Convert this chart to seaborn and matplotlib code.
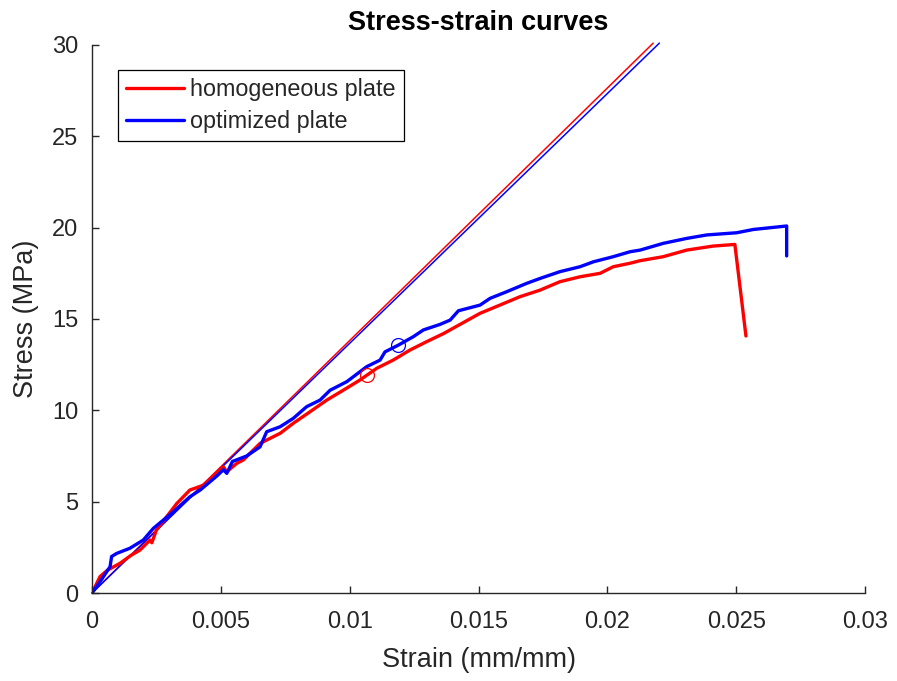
import matplotlib
matplotlib.use("Agg")
import matplotlib.pyplot as plt
from matplotlib.lines import Line2D
import seaborn as sns

# Measured stress-strain response (strain in mm/mm, stress in MPa)
homog_strain = [0.0, 0.00031, 0.00060, 0.00109, 0.00150, 0.00186, 0.00225, 0.00232,
                0.0025, 0.00329, 0.0038, 0.00432, 0.0051, 0.00523, 0.00562, 0.00587,
                0.00652, 0.0073, 0.00781, 0.00846, 0.00911, 0.00975, 0.0104, 0.01105,
                0.01169, 0.01234, 0.01299, 0.01364, 0.01428, 0.01506, 0.01583, 0.01661,
                0.01739, 0.01816, 0.01894, 0.01972, 0.02023, 0.02088, 0.02127, 0.02217,
                0.02308, 0.0241, 0.02495, 0.02538]
homog_stress = [0.0, 0.9, 1.25, 1.63, 2.05, 2.35, 2.9, 2.75,
                3.45, 4.9, 5.64, 5.9, 6.9, 6.64, 7.1, 7.28,
                8.19, 8.74, 9.29, 9.92, 10.56, 11.1, 11.66, 12.3,
                12.75, 13.3, 13.76, 14.2, 14.7, 15.31, 15.76, 16.22,
                16.58, 17.04, 17.31, 17.5, 17.86, 18.05, 18.19, 18.41,
                18.77, 18.99, 19.08, 14.07]

optim_strain = [0.0, 0.00035, 0.0007, 0.00076, 0.00096, 0.00147, 0.00199, 0.00238,
                0.00316, 0.0038, 0.0042, 0.00484, 0.00510, 0.00523, 0.00545, 0.00600,
                0.00652, 0.00678, 0.0073, 0.00781, 0.00833, 0.00885, 0.00924, 0.00989,
                0.01066, 0.01118, 0.01137, 0.01189, 0.01247, 0.01286, 0.0135, 0.0139,
                0.01422, 0.01506, 0.01545, 0.01609, 0.01687, 0.01739, 0.01816, 0.01894,
                0.01946, 0.02023, 0.02088, 0.02127, 0.02217, 0.02308, 0.02386, 0.02502,
                0.02567, 0.02696, 0.02696]
optim_stress = [0.0, 0.7, 1.44, 2.0, 2.17, 2.45, 2.9, 3.54,
                4.45, 5.27, 5.64, 6.4, 6.75, 6.55, 7.2, 7.5,
                8.0, 8.83, 9.1, 9.56, 10.2, 10.56, 11.1, 11.57,
                12.39, 12.75, 13.2, 13.57, 14.03, 14.4, 14.7, 14.94,
                15.45, 15.76, 16.13, 16.49, 16.95, 17.22, 17.59, 17.86,
                18.13, 18.41, 18.68, 18.77, 19.14, 19.41, 19.6, 19.72,
                19.9, 20.09, 18.45]

# Linear-elastic reference lines
homog_elastic_strain = [0.0, 0.02178]
homog_elastic_stress = [0.0, 30.1]
optim_elastic_strain = [0.0, 0.02202]
optim_elastic_stress = [0.0, 30.1]

# Marked points on each curve
homog_mark = (0.01069, 11.93)
optim_mark = (0.01189, 13.57)

x_ticks = [0, 0.005, 0.01, 0.015, 0.02, 0.025, 0.03]
x_tick_labels = ["0", "0.005", "0.01", "0.015", "0.02", "0.025", "0.03"]
y_ticks = [0, 5, 10, 15, 20, 25, 30]

sns.set_style("white")
plt.rcParams["font.family"] = ["Liberation Sans", "DejaVu Sans"]

RED = "#ff0000"
BLUE = "#0000ff"
AXC = "#262626"

fig = plt.figure(figsize=(8.97, 6.81), dpi=100)
ax = fig.add_axes([0.1026, 0.1292, 0.8617, 0.8048])

sns.lineplot(x=homog_elastic_strain, y=homog_elastic_stress, sort=False, estimator=None,
             color=RED, linewidth=1.1, ax=ax, clip_on=False)
sns.lineplot(x=optim_elastic_strain, y=optim_elastic_stress, sort=False, estimator=None,
             color=BLUE, linewidth=1.1, ax=ax, clip_on=False)
sns.lineplot(x=homog_strain, y=homog_stress, sort=False, estimator=None,
             color=RED, linewidth=2.4, ax=ax)
sns.lineplot(x=optim_strain, y=optim_stress, sort=False, estimator=None,
             color=BLUE, linewidth=2.4, ax=ax)

ax.plot([homog_mark[0]], [homog_mark[1]], "o", mfc="none", mec=RED, ms=10, mew=0.9)
ax.plot([optim_mark[0]], [optim_mark[1]], "o", mfc="none", mec=BLUE, ms=10, mew=0.9)

ax.set_xlim(0, 0.03)
ax.set_ylim(0, 30)
ax.set_xticks(x_ticks)
ax.set_xticklabels(x_tick_labels)
ax.set_yticks(y_ticks)

for side in ["top", "right"]:
    ax.spines[side].set_visible(False)
for side in ["left", "bottom"]:
    ax.spines[side].set_color(AXC)
    ax.spines[side].set_linewidth(1.0)
ax.tick_params(direction="in", length=5, width=1, color=AXC, labelcolor=AXC,
               labelsize=17, left=True, bottom=True)
ax.tick_params(axis="x", pad=13)
ax.tick_params(axis="y", pad=10)

ax.set_xlabel("Strain (mm/mm)", fontsize=19.5, color=AXC, labelpad=10)
ax.set_ylabel("Stress (MPa)", fontsize=19.5, color=AXC, labelpad=9)
ax.set_title("Stress-strain curves", fontsize=19.5, fontweight="bold", color="black", pad=11)

handles = [Line2D([], [], color=RED, linewidth=2.4),
           Line2D([], [], color=BLUE, linewidth=2.4)]
leg = ax.legend(handles, ["homogeneous plate", "optimized plate"], loc="upper left",
                bbox_to_anchor=(0.033, 0.955), fontsize=16.8, frameon=True, fancybox=False,
                framealpha=1, edgecolor="black", handlelength=2.5, handletextpad=0.25,
                borderpad=0.35, labelspacing=0.4, borderaxespad=0)
leg.get_frame().set_linewidth(0.9)
for t in leg.get_texts():
    t.set_color(AXC)

fig.savefig("out.png", dpi=100)
